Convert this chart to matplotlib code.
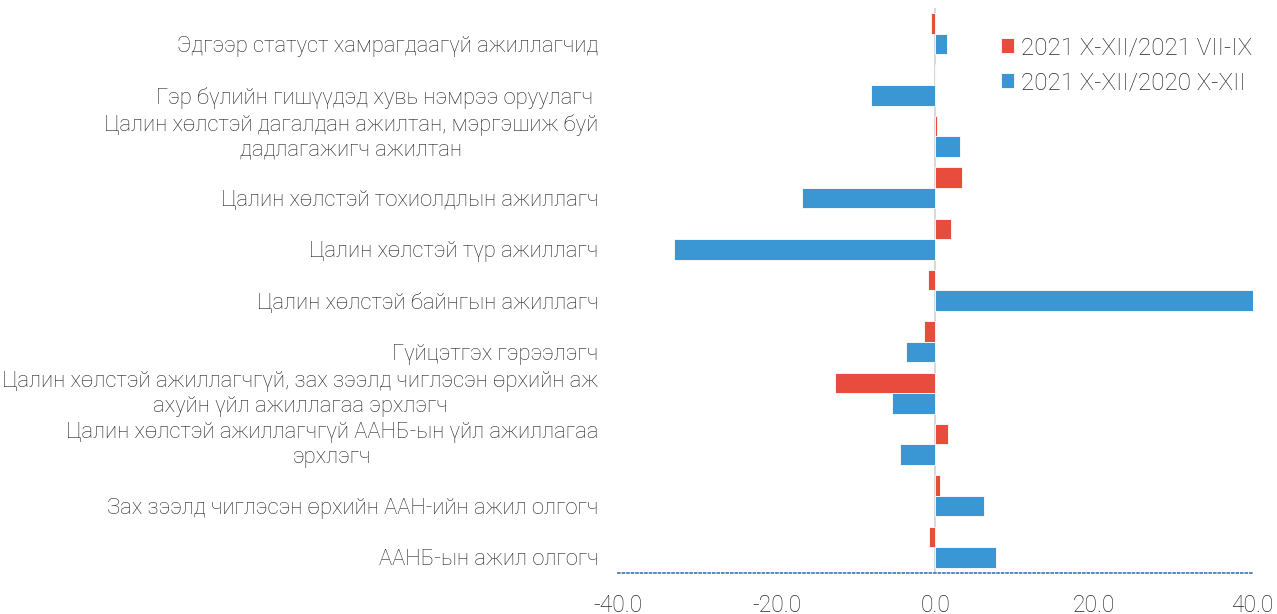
import numpy as np
import matplotlib.pyplot as plt
from matplotlib.transforms import ScaledTranslation

plt.rcParams['font.family'] = ['Roboto', 'DejaVu Sans']

# categories from bottom to top
categories = [
    "ААНБ-ын ажил олгогч",
    "Зах зээлд чиглэсэн өрхийн ААН-ийн ажил олгогч",
    "Цалин хөлстэй ажиллагчгүй ААНБ-ын үйл ажиллагаа\nэрхлэгч",
    "Цалин хөлстэй ажиллагчгүй, зах зээлд чиглэсэн өрхийн аж\nахуйн үйл ажиллагаа эрхлэгч",
    "Гүйцэтгэх гэрээлэгч",
    "Цалин хөлстэй байнгын ажиллагч",
    "Цалин хөлстэй түр ажиллагч",
    "Цалин хөлстэй тохиолдлын ажиллагч",
    "Цалин хөлстэй дагалдан ажилтан, мэргэшиж буй\nдадлагажигч ажилтан",
    "Гэр бүлийн гишүүдэд хувь нэмрээ оруулагч ",
    "Эдгээр статуст хамрагдаагүй ажиллагчид",
]
qoq = [-0.8, 0.6, 1.6, -12.6, -1.5, -0.9, 2.0, 3.4, 0.2, -0.1, -0.5]   # 2021 X-XII/2021 VII-IX
yoy = [7.7, 6.1, -4.4, -5.5, -3.7, 40.5, -32.9, -16.8, 3.1, -8.1, 1.4]  # 2021 X-XII/2020 X-XII
series_names = ["2021 X-XII/2021 VII-IX", "2021 X-XII/2020 X-XII"]

red = '#E74C3C'
blue = '#3A97D4'
txt = '#262626'

fig = plt.figure(figsize=(12.77, 6.14), dpi=100)
ax = fig.add_axes([0.484, 0.067, 0.497, 0.92])

y = np.arange(len(categories))
h = 0.4
ax.barh(y + h/2, qoq, height=h, color=red, edgecolor='white', linewidth=0.6, label=series_names[0])
ax.barh(y - h/2, yoy, height=h, color=blue, edgecolor='white', linewidth=0.6, label=series_names[1])

ax.axvline(0, color='#d9d9d9', lw=1.5, zorder=0)
ax.set_xlim(-40, 40)
ax.set_ylim(-0.5, 10.5)

for s in ['top', 'right', 'left']:
    ax.spines[s].set_visible(False)
ax.spines['bottom'].set_color('#4a7fc9')
ax.spines['bottom'].set_linestyle((0, (1, 1.5)))
ax.spines['bottom'].set_linewidth(1.3)

ax.set_xticks([-40, -20, 0, 20, 40])
ax.set_xticklabels(['%.1f' % v for v in [-40, -20, 0, 20, 40]])
ax.tick_params(axis='x', length=0, pad=15, labelsize=16.5, labelcolor=txt)

ax.set_yticks(y - h/2)
ax.set_yticklabels(categories, fontsize=15.8, color=txt, linespacing=1.25)
ax.tick_params(axis='y', length=0, pad=14)
for lab in ax.get_yticklabels():
    lab.set_multialignment('center')
    lab.set_fontweight('light')
    if '\n' in lab.get_text():
        lab.set_transform(lab.get_transform() + ScaledTranslation(0, 14/100, fig.dpi_scale_trans))
for lab in ax.get_xticklabels():
    lab.set_fontweight('light')

leg = ax.legend(loc='upper left', bbox_to_anchor=(0.603, 0.95), frameon=False,
                borderaxespad=0, borderpad=0,
                handlelength=0.55, handleheight=0.55, handletextpad=0.3,
                labelspacing=0.5, prop={'size': 17.5, 'weight': 'light'})
for t in leg.get_texts():
    t.set_color(txt)

fig.savefig('out.png', dpi=100)
